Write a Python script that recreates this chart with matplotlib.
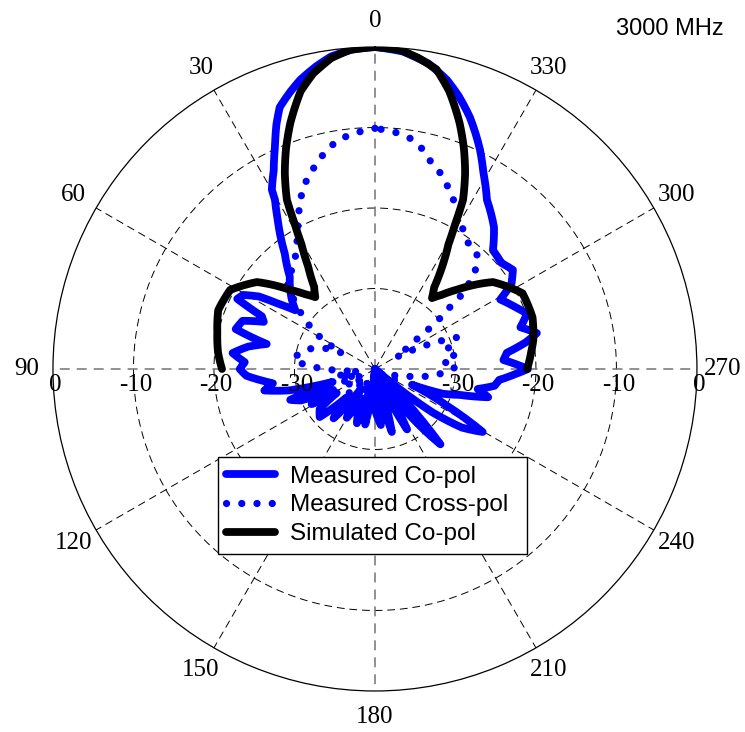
import numpy as np
import matplotlib.pyplot as plt
from matplotlib.transforms import offset_copy

# angles in degrees, counter-clockwise from the top (90 = left), levels in dB
co_ang = [0, 4, 8, 11, 14.5, 17, 20, 22, 24.2, 27, 29.9, 30.6, 33, 35, 38, 42.7, 46, 50,
          53.6, 56, 58, 60.7, 63, 65, 67, 70, 74, 77, 80, 83.6, 87, 90,
          93, 96, 98, 101, 104, 107, 110, 113, 116.6, 119, 122, 126, 131, 135, 140,
          145, 150, 155, 161.6, 166, 170, 175, 180, 186, 190, 195, 200, 205, 208, 212,
          216, 221, 225, 229, 233, 236, 239.7, 243, 247, 250, 253, 256, 259, 262,
          265, 268, 270, 274, 277, 280, 282.5, 286, 290, 294, 299, 302, 305.7, 310,
          315.2, 320, 326.5, 331, 334.4, 339.3, 343, 346, 350, 355, 360]
co_db = [0, -0.2, -0.8, -1.7, -2.9, -4.0, -5.4, -7.3, -9.7, -12.3, -14.3, -15.6, -17.8,
         -19.4, -21.8, -24.4, -25.3, -26.5, -27.7, -25.5, -23, -21.2, -20.8, -24.5,
         -25, -22.5, -22, -26.2, -24, -22.2, -23.8, -23.2,
         -24, -26, -27.2, -26, -29, -34.5, -28.8, -30, -34.2, -31, -34.4, -31.5,
         -30.9, -35, -32, -37, -33, -36, -32.9, -38, -33, -40, -35, -33, -40,
         -31.9, -40, -36, -31.5, -39, -34, -27.6, -38, -40, -31, -27, -24.5, -30, -35,
         -31, -29, -25.5, -27, -25, -24.5, -22.5, -21, -24, -23.5, -21, -19.4,
         -21.2, -19.9, -21, -22.2, -20, -18.9, -19.5, -19.2, -17, -14.8, -12.2,
         -9.8, -6.6, -4.5, -3, -1.5, -0.4, 0]

cx_ang = [0, 5, 9.2, 12.5, 15.7, 18.5, 21.7, 24.3, 26.9, 29.5, 33, 36.8, 41, 45.7, 49,
          52, 55, 58, 61, 64, 67, 71, 75, 79, 83, 86, 89, 93, 97, 101, 106, 111, 116,
          121, 127, 133, 139, 146, 153, 160, 166, 172, 178, 184, 190, 196, 203, 210,
          218, 226, 234, 242, 250, 257, 263, 268, 272, 276, 280, 284, 288, 291, 295,
          299, 302, 305.8, 306.7, 308, 309.6, 310.3, 312.5, 315, 318.7, 323.8,
          328.5, 335.2, 338.5, 341.7, 345, 348, 351.4, 355, 360]
cx_db = [-10.1, -10.6, -11.2, -12.2, -13.4, -14.5, -15.8, -17.4, -18.9, -20.6, -22.1,
         -23.4, -24.1, -24.7, -26.5, -28, -29.5, -31, -32.8, -35.5, -33.5, -32, -31,
         -30.3, -29.8, -31, -33, -36, -38, -35, -37.5, -35.5, -38, -36, -38.5, -35.5,
         -38, -36.5, -38.5, -33.5, -37, -35, -34, -37, -38.5, -36, -38.5, -37, -39,
         -37.5, -39, -37, -38, -36, -33, -31, -29.8, -31.5, -30, -31, -30, -29, -33,
         -37, -36, -33.4, -31.5, -29.7, -27.9, -26.2, -24, -22.2, -20.8, -20.5,
         -19.3, -16.8, -15.5, -14.3, -13.3, -12, -11, -10.5, -10.1]

sim_ang = [-90, -84, -79.6, -71.8, -62.8, -53.6, -46, -42, -38.8, -36, -33.3, -30.5,
           -29, -27.5, -24.7, -22, -19, -15, -11.6, -8, -4.5, 0, 4.5, 8, 11.8, 15, 19,
           22, 24.7, 27.5, 29, 30.5, 33.1, 36.5, 39.7, 43, 47, 53.6, 61.4, 69.4, 77,
           84, 90]
sim_db = [-21.1, -20.5, -20, -19.4, -19.4, -21.8, -25.8, -27.6, -28.7, -27.5, -24.8,
          -22, -19.5, -16.3, -13.2, -10.5, -7.7, -4.3, -2.0, -1.0, -0.25, 0, -0.25,
          -1.0, -2.5, -4.3, -7.7, -10.5, -13.2, -16.3, -19.5, -22, -24.8, -27.3,
          -28.4, -27.3, -25.6, -21.8, -19.5, -19.2, -19.9, -20.4, -21]

ring_levels = [-30, -20, -10]
r_label_levels = [0, -10, -20, -30]
r_labels = ['0', '-10', '-20', '-30']
angle_ticks = list(range(0, 360, 30))
angle_labels = [str(a) for a in angle_ticks]

fig = plt.figure(figsize=(7.45, 7.32), dpi=100)
ax = fig.add_axes([0.0711, 0.056, 0.8644, 0.8798], projection='polar')
ax.set_theta_zero_location('N')
ax.set_theta_direction(1)
ax.set_ylim(-40, 0)
ax.grid(False)
ax.set_xticks([])
ax.set_yticks([])
ax.spines['polar'].set_linewidth(0.9)

# dashed grid
full = np.linspace(0, 2 * np.pi, 361)
for lev in ring_levels:
    ax.plot(full, np.full_like(full, lev), color='k', lw=0.7, ls=(0, (8, 5)))
for a in angle_ticks:
    if a % 90 == 0:
        ax.plot([np.deg2rad(a)] * 2, [-40, 0], color='0.45', lw=1.1, ls=(0, (6.5, 4.6)))
    else:
        ax.plot([np.deg2rad(a)] * 2, [-40, 0], color='k', lw=0.7, ls=(0, (8, 5)))

# curves
lines = []
lines += ax.plot(np.deg2rad(co_ang), co_db, color='#0000ff', lw=5.6,
                 solid_capstyle='round', solid_joinstyle='round', label='Measured Co-pol')
lines += ax.plot(np.deg2rad(cx_ang), cx_db, color='#0000ff', lw=5.2,
                 ls=(0, (0.01, 2.1)), dash_capstyle='round', label='Measured Cross-pol')
lines += ax.plot(np.deg2rad(sim_ang), sim_db, color='k', lw=5.6,
                 solid_capstyle='round', solid_joinstyle='round', label='Simulated Co-pol')
# draw segments along the polar grid (r linear in angle) rather than as chords
for ln in lines:
    ln.get_path()._interpolation_steps = 12

# angle labels
for a, lab in zip(angle_ticks, angle_labels):
    ax.text(np.deg2rad(a), 3.24, lab, ha='center', va='center', fontsize=18,
            family='Liberation Serif', clip_on=False)

# radial labels below the horizontal axis
shift = offset_copy(ax.transData, fig=fig, x=2, y=-16, units='dots')
for lev, lab in zip(r_label_levels, r_labels):
    for side in (90, 270):
        ax.text(np.deg2rad(side), lev, lab, transform=shift, ha='center', va='center',
                fontsize=18, family='Liberation Serif', clip_on=False)

leg = ax.legend(loc='upper left', bbox_to_anchor=(0.2926, 0.2418, 0.4148, 0.1339),
                bbox_transform=fig.transFigure, mode='expand',
                prop={'family': 'Liberation Sans', 'size': 17.5},
                frameon=True, fancybox=False, edgecolor='k', framealpha=1,
                borderpad=0.35, handlelength=2.0, handletextpad=0.6, labelspacing=0.28,
                borderaxespad=0)
leg.get_frame().set_linewidth(1.0)

fig.text(0.827, 0.960, '3000 MHz', ha='left', va='center', fontsize=17,
         family='Liberation Sans')

fig.savefig('out.png', dpi=100, facecolor='white')
